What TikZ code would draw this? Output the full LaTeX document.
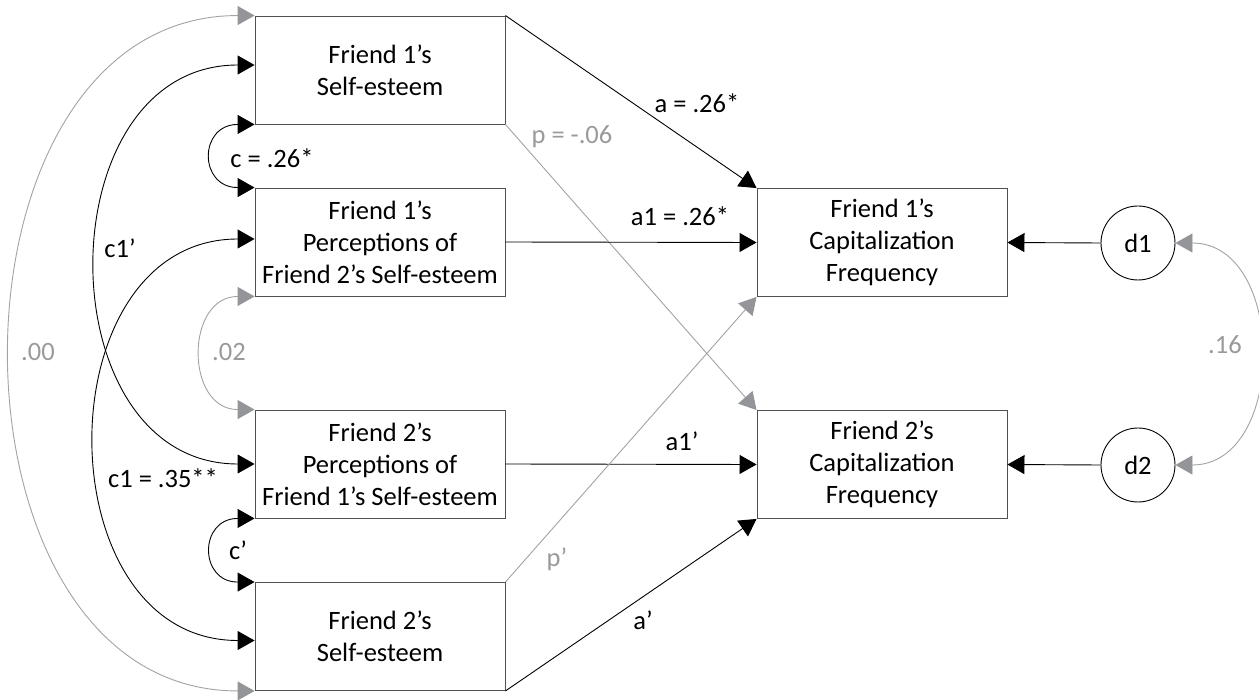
\documentclass[tikz,border=0pt]{standalone}
\usepackage{fontspec}
\setmainfont{Carlito}
\usetikzlibrary{arrows.meta}
\definecolor{boxc}{HTML}{505050}
\definecolor{lgray}{HTML}{A3A3A3}
\definecolor{tgray}{HTML}{9A9A9A}
\definecolor{agray}{HTML}{939598}
\begin{document}
\begin{tikzpicture}[x=1pt,y=-1pt,
  txt/.style={font=\fontsize{26.5}{32}\selectfont},
  box/.style={txt,draw=boxc,line width=0.9pt,minimum width=250pt,minimum height=108pt,align=center,inner sep=0pt},
  circ/.style={txt,draw=black,line width=0.9pt,circle,minimum size=74pt,inner sep=0pt},
  arr/.style={-{Triangle[length=17pt,width=19pt]},line width=0.9pt,draw=black},
  garr/.style={-{Triangle[length=17pt,width=19pt,color=agray]},line width=0.9pt,draw=lgray},
  dbl/.style={{Triangle[length=17pt,width=19pt]}-{Triangle[length=17pt,width=19pt]},line width=0.9pt,draw=black},
  gdbl/.style={{Triangle[length=17pt,width=19pt,color=agray]}-{Triangle[length=17pt,width=19pt,color=agray]},line width=0.9pt,draw=lgray},
  lab/.style={txt,inner sep=0pt},
  glab/.style={txt,inner sep=0pt,text=tgray}]
\useasboundingbox (0,0) rectangle (1259,700);
\fill[white] (0,0) rectangle (1259,700);

\node[box] (A) at (380,70) {Friend 1’s\\Self-esteem};
\node[box] (B) at (380,242) {Friend 1’s\\Perceptions of\\Friend 2’s Self-esteem};
\node[box] (C) at (380,464) {Friend 2’s\\Perceptions of\\Friend 1’s Self-esteem};
\node[box] (D) at (380,636.5) {Friend 2’s\\Self-esteem};
\node[box] (E) at (882,242.5) {Friend 1’s\\Capitalization\\Frequency};
\node[box] (F) at (882,464.5) {Friend 2’s\\Capitalization\\Frequency};
\node[circ] (d1) at (1138,243) {d1};
\node[circ] (d2) at (1138,465) {d2};

% straight paths
\draw[arr] (A.north east) -- (E.north west);
\draw[garr] (A.south east) -- (F.north west);
\draw[arr] (B.east) -- (E.west);
\draw[arr] (C.east) -- (F.west);
\draw[garr] (D.north east) -- (E.south west);
\draw[arr] (D.south east) -- (F.south west);
\draw[arr] (d1.west) -- (E.east);
\draw[arr] (d2.west) -- (F.east);

% curved covariances
\draw[dbl] (A.south west) to[out=180,in=180,looseness=2.28] (B.north west);
\draw[gdbl] (B.south west) to[out=180,in=180,looseness=1.58] (C.north west);
\draw[dbl] (C.south west) to[out=180,in=180,looseness=2.25] (D.north west);
\draw[dbl] ([yshift=5pt]A.west) to[out=180,in=180,looseness=1.35] (C.west);
\draw[dbl] ([yshift=3pt]B.west) to[out=180,in=180,looseness=1.35] ([yshift=-4pt]D.west);
\draw[gdbl] (A.north west) to[out=180,in=180,looseness=1.23] (D.south west);
\draw[gdbl] (d1.east) to[out=0,in=0,looseness=1.29] (d2.east);

% labels
\node[lab] (la) at (697,103) {a = .26*};
\node[glab] (lp) at (572,137) {p = -.06};
\node[lab] (la1) at (680,216) {a1 = .26*};
\node[lab] (la1p) at (682,441) {a1’};
\node[glab] (lpp) at (557,559) {p’};
\node[lab] (lap) at (643,620) {a’};
\node[glab] (l16) at (1225,345) {.16};
\node[glab] (l00) at (38,352) {.00};
\node[glab] (l02) at (229,352) {.02};
\node[lab] (lc1p) at (120,248) {c1’};
\node[lab] (lc) at (272,158) {c = .26*};
\node[lab] (lc1) at (163,478) {c1 = .35**};
\node[lab] (lcp) at (238,550) {c’};
\end{tikzpicture}
\end{document}
